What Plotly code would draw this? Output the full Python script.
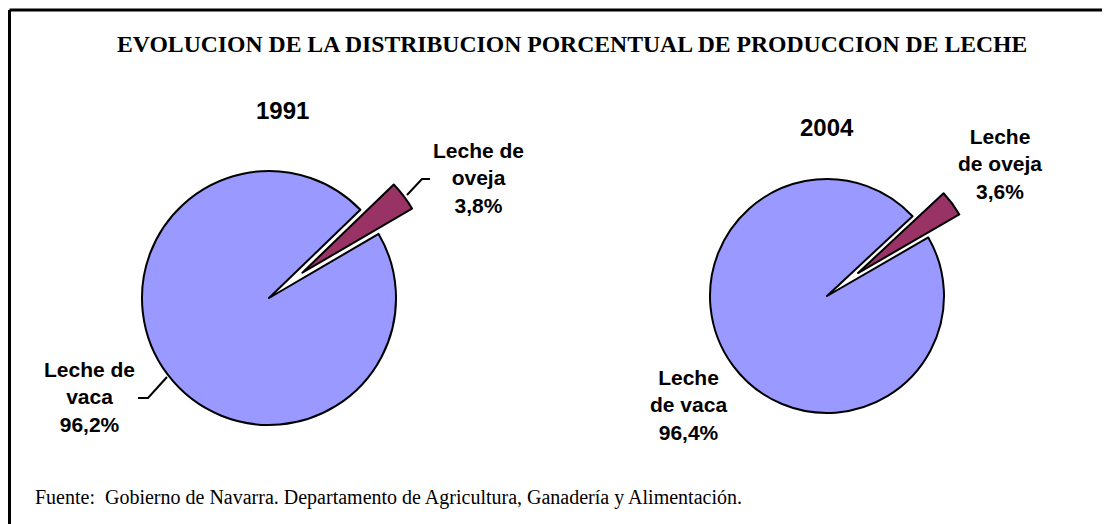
import plotly.graph_objects as go

# the page body adds an 8px margin, so the figure is drawn slightly smaller
OFF = 8
W, H = 1110 - OFF, 524 - OFF

labels = ["Leche de oveja", "Leche de vaca"]
values_1991 = [3.8, 96.2]
values_2004 = [3.6, 96.4]
colors = ["#993366", "#9999FF"]

title = "EVOLUCION DE LA DISTRIBUCION PORCENTUAL DE PRODUCCION DE LECHE"
source = "Fuente:  Gobierno de Navarra. Departamento de Agricultura, Ganadería y Alimentación."


def px(x):
    return (x - OFF) / W


def py(y):
    return 1 - (y - OFF) / H


def domain(cx, cy, r, pull):
    half = r * (1 + pull)
    return dict(x=[px(cx - half), px(cx + half)], y=[py(cy + half), py(cy - half)])


fig = go.Figure()
fig.add_trace(
    go.Pie(
        labels=labels,
        values=values_1991,
        sort=False,
        direction="clockwise",
        rotation=46,
        pull=[0.33, 0],
        textinfo="none",
        hoverinfo="label+percent",
        marker=dict(colors=colors, line=dict(color="black", width=2)),
        domain=domain(269, 298, 127, 0.33),
        showlegend=False,
    )
)
fig.add_trace(
    go.Pie(
        labels=labels,
        values=values_2004,
        sort=False,
        direction="clockwise",
        rotation=47,
        pull=[0.33, 0],
        textinfo="none",
        hoverinfo="label+percent",
        marker=dict(colors=colors, line=dict(color="black", width=2)),
        domain=domain(827, 296, 117, 0.33),
        showlegend=False,
    )
)

lab_font = dict(family="Liberation Sans, Arial", size=21, color="black")
year_font = dict(family="Liberation Sans, Arial", size=24, color="black")


def note(x, y, text, font):
    fig.add_annotation(
        x=px(x), y=py(y), xref="paper", yref="paper", text=text,
        showarrow=False, font=font, align="center",
        xanchor="center", yanchor="middle",
    )


note(572, 44, "<b>" + title + "</b>",
     dict(family="Liberation Serif, Times New Roman", size=23.7, color="black"))
note(282, 110, "<b>1991</b>", year_font)
note(827, 128, "<b>2004</b>", year_font)
note(478, 178, "<b>Leche de<br>oveja<br>3,8%</b>", lab_font)
note(89, 397, "<b>Leche de<br>vaca<br>96,2%</b>", lab_font)
note(1000, 164, "<b>Leche<br>de oveja<br>3,6%</b>", lab_font)
note(688, 405, "<b>Leche<br>de vaca<br>96,4%</b>", lab_font)

fig.add_annotation(
    x=px(33), y=py(497), xref="paper", yref="paper", text=source,
    showarrow=False, xanchor="left", yanchor="middle",
    font=dict(family="Liberation Serif, Times New Roman", size=20, color="black"),
)

# leader lines
line_style = dict(color="black", width=2)
for pts in ([(407, 195), (422, 179), (430, 179)], [(167, 377), (148, 398), (138, 398)]):
    path = "M " + " L ".join(f"{px(x)},{py(y)}" for x, y in pts)
    fig.add_shape(type="path", path=path, xref="paper", yref="paper", line=line_style)

# frame (left and top edges)
fig.add_shape(type="line", x0=px(9.5), x1=px(9.5), y0=0, y1=py(10), xref="paper", yref="paper",
              line=dict(color="black", width=3))
fig.add_shape(type="line", x0=px(9.5), x1=1, y0=py(10), y1=py(10), xref="paper", yref="paper",
              line=dict(color="black", width=3))

fig.update_layout(
    width=W,
    height=H,
    margin=dict(l=0, r=0, t=0, b=0),
    paper_bgcolor="white",
    plot_bgcolor="white",
)
fig.write_html("out.html")
